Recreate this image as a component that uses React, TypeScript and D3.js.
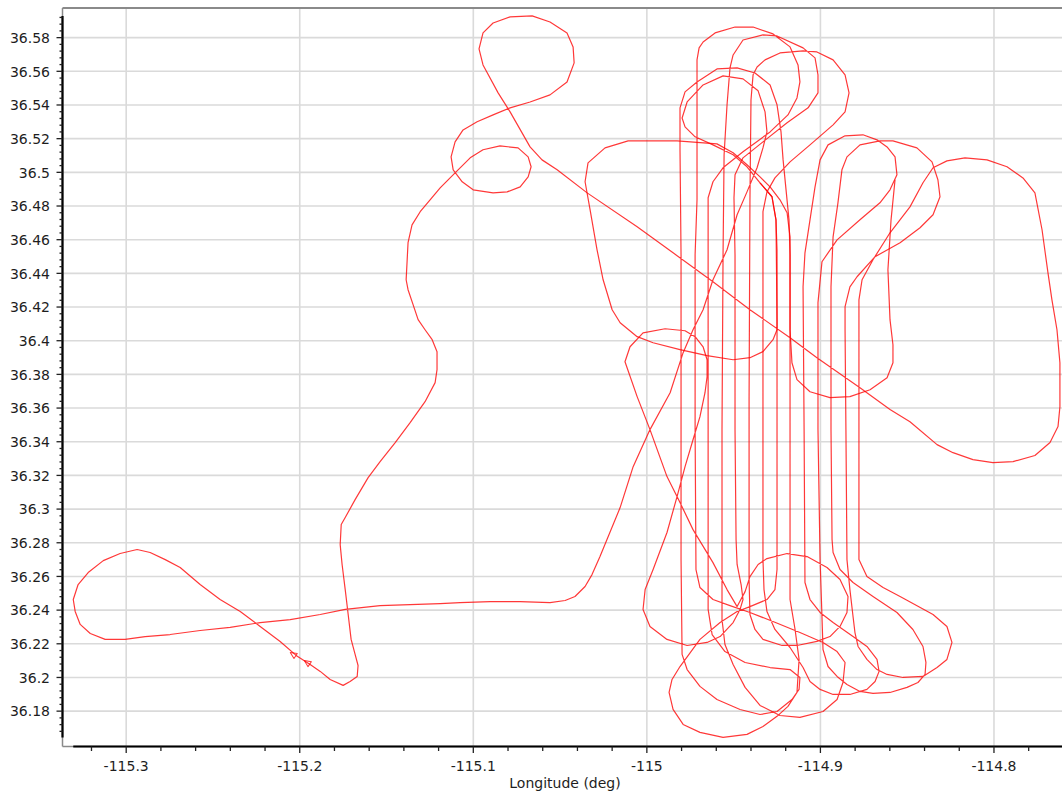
import React from "react";
import * as d3 from "d3";

const WIDTH = 1062;
const HEIGHT = 797;

// Axis ranges (degrees)
const lonDomain: [number, number] = [-115.3367, -114.7608];
const latDomain: [number, number] = [36.159, 36.5976];

// Labelled ticks
const lonTicks = [-115.3, -115.2, -115.1, -115.0, -114.9, -114.8];
const latTicks = [
  36.18, 36.2, 36.22, 36.24, 36.26, 36.28, 36.3, 36.32, 36.34, 36.36, 36.38,
  36.4, 36.42, 36.44, 36.46, 36.48, 36.5, 36.52, 36.54, 36.56, 36.58,
];

// Main flight track: departure, survey lines, return (lon, lat)
const mainTrack: [number, number][] = [
  [-115.2021, 36.2131], [-115.194, 36.2077], [-115.1882, 36.2036], [-115.1825, 36.1988],
  [-115.175, 36.1953], [-115.171, 36.1976], [-115.1669, 36.2006], [-115.1664, 36.2071],
  [-115.1681, 36.2137], [-115.1704, 36.2226], [-115.1721, 36.2374], [-115.1738, 36.2522],
  [-115.1756, 36.2671], [-115.1767, 36.2789], [-115.1761, 36.2908], [-115.1738, 36.295],
  [-115.1681, 36.3056], [-115.1606, 36.3187], [-115.1537, 36.3282], [-115.145, 36.3395],
  [-115.1364, 36.3513], [-115.1278, 36.3638], [-115.122, 36.3751], [-115.1209, 36.3828],
  [-115.1209, 36.3935], [-115.1237, 36.4006], [-115.1278, 36.4065], [-115.1318, 36.4125],
  [-115.1347, 36.4214], [-115.1376, 36.4303], [-115.1387, 36.4362], [-115.1381, 36.4481],
  [-115.1376, 36.4582], [-115.1353, 36.4688], [-115.1306, 36.4766], [-115.1249, 36.4837],
  [-115.1191, 36.4908], [-115.1105, 36.4997], [-115.1018, 36.5086], [-115.0944, 36.5134],
  [-115.0846, 36.5157], [-115.0742, 36.5145], [-115.0684, 36.5092], [-115.0667, 36.5033],
  [-115.0684, 36.4973], [-115.073, 36.4914], [-115.0805, 36.4884], [-115.0886, 36.4878],
  [-115.1001, 36.4896], [-115.1064, 36.4944], [-115.1116, 36.5015], [-115.1128, 36.5092],
  [-115.1105, 36.5181], [-115.1059, 36.5252], [-115.0978, 36.53], [-115.0886, 36.5341],
  [-115.0788, 36.5383], [-115.0673, 36.5418], [-115.0558, 36.546], [-115.046, 36.5537],
  [-115.0419, 36.565], [-115.0425, 36.5745], [-115.046, 36.5828], [-115.0558, 36.5893],
  [-115.0661, 36.5929], [-115.0788, 36.5923], [-115.0886, 36.5887], [-115.0944, 36.5828],
  [-115.0967, 36.5733], [-115.0944, 36.5638], [-115.0857, 36.5472], [-115.0788, 36.5359],
  [-115.0673, 36.5151], [-115.0604, 36.5074], [-115.0517, 36.5015], [-115.0344, 36.4878],
  [-115.0056, 36.4677], [-114.9849, 36.4522], [-114.9619, 36.435], [-114.9406, 36.4184],
  [-114.9175, 36.4018], [-114.902, 36.3899], [-114.8772, 36.3721], [-114.8599, 36.3591],
  [-114.8484, 36.3519], [-114.8328, 36.3383], [-114.8236, 36.3335], [-114.8121, 36.3294],
  [-114.8006, 36.3276], [-114.789, 36.3282], [-114.7764, 36.3318], [-114.7677, 36.3395],
  [-114.7631, 36.349], [-114.762, 36.3608], [-114.762, 36.3869], [-114.7637, 36.4065],
  [-114.7666, 36.4243], [-114.7689, 36.4404], [-114.7723, 36.4659], [-114.7764, 36.4878],
  [-114.7833, 36.4967], [-114.7925, 36.5033], [-114.804, 36.5074], [-114.8167, 36.5086],
  [-114.8271, 36.5068], [-114.8351, 36.5027], [-114.8409, 36.4938], [-114.8484, 36.4795],
  [-114.8599, 36.4641], [-114.8697, 36.4481], [-114.876, 36.4362], [-114.8778, 36.4243],
  [-114.8778, 36.3472], [-114.8778, 36.27], [-114.8732, 36.2599], [-114.8639, 36.2534],
  [-114.8541, 36.2481], [-114.8351, 36.2374], [-114.8271, 36.2303], [-114.8242, 36.2208],
  [-114.8271, 36.2107], [-114.8328, 36.2059], [-114.8409, 36.2006], [-114.8524, 36.2],
  [-114.8616, 36.2018], [-114.8674, 36.2047], [-114.8732, 36.2107], [-114.8783, 36.2184],
  [-114.8801, 36.2267], [-114.8812, 36.2362], [-114.883, 36.2522], [-114.8847, 36.27],
  [-114.8853, 36.3472], [-114.8858, 36.4065], [-114.8858, 36.4202], [-114.883, 36.432],
  [-114.8789, 36.438], [-114.8685, 36.4499], [-114.8541, 36.4582], [-114.8426, 36.4671],
  [-114.8351, 36.4748], [-114.8311, 36.4855], [-114.8323, 36.4956], [-114.8357, 36.5062],
  [-114.8444, 36.5145], [-114.8582, 36.5187], [-114.8657, 36.5187], [-114.8772, 36.5163],
  [-114.8847, 36.5092], [-114.8876, 36.5015], [-114.8899, 36.4819], [-114.8927, 36.4617],
  [-114.8939, 36.432], [-114.8939, 36.3472], [-114.8933, 36.2819], [-114.8927, 36.2742],
  [-114.8887, 36.2641], [-114.8812, 36.2564], [-114.8697, 36.2481], [-114.8559, 36.2386],
  [-114.8467, 36.2285], [-114.8409, 36.2184], [-114.8392, 36.2089], [-114.8397, 36.2018],
  [-114.8438, 36.197], [-114.8501, 36.1941], [-114.8599, 36.1911], [-114.8697, 36.1905],
  [-114.8772, 36.1917], [-114.8847, 36.1958], [-114.8904, 36.2006], [-114.8956, 36.2065],
  [-114.8985, 36.2166], [-114.8991, 36.2362], [-114.9002, 36.27], [-114.9014, 36.3472],
  [-114.9014, 36.4226], [-114.8991, 36.4469], [-114.8904, 36.4599], [-114.8772, 36.4718],
  [-114.8657, 36.4819], [-114.8599, 36.4896], [-114.8559, 36.4985], [-114.857, 36.5092],
  [-114.8616, 36.5151], [-114.8674, 36.5193], [-114.8755, 36.5223], [-114.8858, 36.5217],
  [-114.8956, 36.5163], [-114.9002, 36.5074], [-114.9031, 36.4914], [-114.906, 36.4718],
  [-114.9089, 36.4522], [-114.91, 36.432], [-114.9094, 36.3472], [-114.9089, 36.2564],
  [-114.906, 36.2463], [-114.9002, 36.2386], [-114.8927, 36.2326], [-114.8812, 36.2243],
  [-114.8732, 36.2184], [-114.8674, 36.2107], [-114.8662, 36.2036], [-114.8685, 36.1976],
  [-114.8732, 36.1929], [-114.883, 36.1899], [-114.8927, 36.1899], [-114.9002, 36.1929],
  [-114.906, 36.1976], [-114.91, 36.2059], [-114.9175, 36.2178], [-114.9262, 36.2285],
  [-114.9308, 36.2392], [-114.9325, 36.2522], [-114.9331, 36.27], [-114.9331, 36.3472],
  [-114.9331, 36.451], [-114.9331, 36.4766], [-114.9308, 36.4884], [-114.9262, 36.4967],
  [-114.9175, 36.5062], [-114.906, 36.5163], [-114.8927, 36.5282], [-114.8858, 36.5359],
  [-114.8835, 36.5472], [-114.8858, 36.5579], [-114.8927, 36.5668], [-114.902, 36.5715],
  [-114.91, 36.5721], [-114.9233, 36.5709], [-114.9319, 36.5668], [-114.9365, 36.5626],
  [-114.9388, 36.5579], [-114.94, 36.543], [-114.9406, 36.4837], [-114.9411, 36.365],
  [-114.9411, 36.2582], [-114.9406, 36.2374], [-114.9377, 36.2285], [-114.9331, 36.2226],
  [-114.9221, 36.219], [-114.9135, 36.219], [-114.902, 36.2214], [-114.8945, 36.2243],
  [-114.8887, 36.2303], [-114.8847, 36.2386], [-114.8841, 36.2481], [-114.8887, 36.2582],
  [-114.8962, 36.2653], [-114.9077, 36.2718], [-114.9192, 36.2736], [-114.9308, 36.2706],
  [-114.9359, 36.2671], [-114.9406, 36.2599], [-114.9434, 36.251], [-114.948, 36.2421],
  [-114.9538, 36.2522], [-114.9619, 36.2682], [-114.9734, 36.2878], [-114.9809, 36.3039],
  [-114.9884, 36.3193], [-114.9982, 36.3472], [-115.0056, 36.3668], [-115.0126, 36.3875],
  [-115.0097, 36.3964], [-115.0022, 36.4047], [-114.9895, 36.4071], [-114.978, 36.4059],
  [-114.9722, 36.4024], [-114.9676, 36.3964], [-114.9653, 36.3887], [-114.9653, 36.3786],
  [-114.9665, 36.3691], [-114.9694, 36.3549], [-114.9734, 36.3412], [-114.978, 36.3252],
  [-114.9826, 36.3074], [-114.9884, 36.2861], [-114.9964, 36.2641], [-115.001, 36.2522],
  [-115.0022, 36.2404], [-114.9982, 36.2303], [-114.9884, 36.2226], [-114.9768, 36.219],
  [-114.9653, 36.2208], [-114.9578, 36.2243], [-114.9503, 36.2326], [-114.9463, 36.2404],
  [-114.9446, 36.2463], [-114.9457, 36.2552], [-114.948, 36.2671], [-114.9486, 36.2819],
  [-114.9492, 36.3472], [-114.9492, 36.451], [-114.9498, 36.4849], [-114.9492, 36.4985],
  [-114.9446, 36.5086], [-114.9331, 36.5181], [-114.9192, 36.5294], [-114.9071, 36.5383],
  [-114.9014, 36.5472], [-114.9014, 36.5579], [-114.9031, 36.568], [-114.91, 36.5739],
  [-114.925, 36.581], [-114.9331, 36.5816], [-114.9446, 36.5786], [-114.9503, 36.5697],
  [-114.9521, 36.562], [-114.9538, 36.5401], [-114.9555, 36.5104], [-114.9561, 36.451],
  [-114.9567, 36.3472], [-114.9567, 36.2344], [-114.955, 36.2196], [-114.9503, 36.2077],
  [-114.9434, 36.1941], [-114.9348, 36.1834], [-114.9233, 36.1774], [-114.9118, 36.1763],
  [-114.8985, 36.1798], [-114.8904, 36.1869], [-114.887, 36.197], [-114.8858, 36.2089],
  [-114.8904, 36.2154], [-114.8985, 36.2208], [-114.9118, 36.2267], [-114.9273, 36.2332],
  [-114.9406, 36.2386], [-114.9521, 36.2427], [-114.9619, 36.2463], [-114.9694, 36.2534],
  [-114.9717, 36.2641], [-114.9722, 36.3472], [-114.9722, 36.451], [-114.9711, 36.4837],
  [-114.9711, 36.543], [-114.9711, 36.5668], [-114.9699, 36.5739], [-114.9676, 36.5774],
  [-114.9607, 36.5828], [-114.9492, 36.5863], [-114.9388, 36.5863], [-114.9273, 36.5822],
  [-114.9175, 36.5745], [-114.9129, 36.5638], [-114.9118, 36.5537], [-114.9135, 36.5442],
  [-114.9187, 36.5341], [-114.929, 36.524], [-114.9446, 36.5122], [-114.9561, 36.5027],
  [-114.9619, 36.4944], [-114.9647, 36.4849], [-114.9647, 36.451], [-114.9647, 36.3472],
  [-114.9647, 36.2404], [-114.9624, 36.2255], [-114.955, 36.2154], [-114.9434, 36.2089],
  [-114.929, 36.2059], [-114.9175, 36.2047], [-114.9118, 36.2], [-114.9123, 36.1929],
  [-114.9164, 36.1869], [-114.925, 36.1798], [-114.9348, 36.178], [-114.9463, 36.181],
  [-114.9596, 36.1869], [-114.9694, 36.1947], [-114.9768, 36.2047], [-114.9797, 36.2137],
  [-114.9803, 36.27], [-114.9803, 36.3472], [-114.9803, 36.451], [-114.9809, 36.5134],
  [-114.9809, 36.5383], [-114.978, 36.5478], [-114.9711, 36.5537], [-114.9596, 36.5614],
  [-114.948, 36.562], [-114.9377, 36.559], [-114.929, 36.5519], [-114.925, 36.5401],
  [-114.9227, 36.524], [-114.9215, 36.5074], [-114.9198, 36.4896], [-114.9181, 36.4718],
  [-114.9175, 36.451], [-114.9175, 36.3472], [-114.9175, 36.2463], [-114.9146, 36.2285],
  [-114.9123, 36.2107], [-114.9135, 36.1911], [-114.9187, 36.1828], [-114.925, 36.1769],
  [-114.9331, 36.1709], [-114.9423, 36.1662], [-114.9561, 36.1644], [-114.9694, 36.1674],
  [-114.9791, 36.1721], [-114.9849, 36.181], [-114.9872, 36.1911], [-114.9855, 36.1988],
  [-114.9809, 36.2065], [-114.9694, 36.2226], [-114.9578, 36.2326], [-114.948, 36.2392],
  [-114.9406, 36.2421], [-114.9308, 36.2463], [-114.9262, 36.2522], [-114.925, 36.2641],
  [-114.925, 36.3472], [-114.925, 36.4125], [-114.9256, 36.4718], [-114.9279, 36.4855],
  [-114.9348, 36.4938], [-114.9423, 36.5033], [-114.9503, 36.5104], [-114.9619, 36.5163],
  [-114.9722, 36.5211], [-114.978, 36.527], [-114.9797, 36.5323], [-114.9768, 36.5418],
  [-114.9676, 36.5519], [-114.9561, 36.5573], [-114.9446, 36.5555], [-114.9359, 36.5484],
  [-114.9319, 36.5359], [-114.9308, 36.524], [-114.9331, 36.5145], [-114.9365, 36.5027],
  [-114.9423, 36.4884], [-114.948, 36.4748], [-114.9538, 36.454], [-114.9619, 36.4362],
  [-114.9676, 36.4184], [-114.9734, 36.4065], [-114.9791, 36.3929], [-114.9866, 36.3691],
  [-114.9982, 36.3472], [-115.0079, 36.3252], [-115.0154, 36.3009], [-115.027, 36.2718],
  [-115.0316, 36.2611], [-115.0356, 36.254], [-115.0414, 36.2481], [-115.0471, 36.2457],
  [-115.0558, 36.2445], [-115.073, 36.2451], [-115.0903, 36.2451], [-115.1076, 36.2445],
  [-115.1191, 36.2439], [-115.1364, 36.2433], [-115.1537, 36.2427], [-115.1738, 36.2404],
  [-115.1882, 36.2374], [-115.2055, 36.2344], [-115.2228, 36.2326], [-115.2401, 36.2297],
  [-115.2574, 36.2279], [-115.2747, 36.2255], [-115.2891, 36.2243], [-115.3006, 36.2226],
  [-115.3121, 36.2226], [-115.3207, 36.2261], [-115.3265, 36.2315], [-115.3294, 36.2392],
  [-115.3305, 36.2463], [-115.3277, 36.2552], [-115.3219, 36.2623], [-115.3132, 36.2694],
  [-115.3035, 36.2736], [-115.2937, 36.276], [-115.2862, 36.2742], [-115.2775, 36.27],
  [-115.2689, 36.2653], [-115.2574, 36.2552], [-115.2459, 36.2463], [-115.2343, 36.2392],
  [-115.2228, 36.2303], [-115.2113, 36.2214], [-115.2021, 36.2131],
];

// Holding loop flown between the eastern survey lines and the western turn area
const loopTrack: [number, number][] = [
  [-114.857, 36.4956], [-114.8593, 36.4718], [-114.8611, 36.4421], [-114.8599, 36.4125],
  [-114.8582, 36.3976], [-114.8582, 36.3869], [-114.8616, 36.378], [-114.8714, 36.3709],
  [-114.883, 36.3668], [-114.8945, 36.3662], [-114.906, 36.3697], [-114.9135, 36.3769],
  [-114.9164, 36.3869], [-114.9175, 36.4065], [-114.9175, 36.451], [-114.9175, 36.4617],
  [-114.9192, 36.476], [-114.9233, 36.4837], [-114.929, 36.4914], [-114.9348, 36.4973],
  [-114.9423, 36.5045], [-114.9503, 36.5116], [-114.9596, 36.5169], [-114.9826, 36.5187],
  [-115.0108, 36.5187], [-115.0241, 36.5145], [-115.0339, 36.5056], [-115.0356, 36.4944],
  [-115.0327, 36.4777], [-115.0287, 36.454], [-115.0252, 36.4362], [-115.02, 36.4184],
  [-115.0154, 36.4107], [-115.0056, 36.4024], [-114.9964, 36.3988], [-114.9809, 36.3947],
  [-114.9653, 36.3911], [-114.9503, 36.3887], [-114.9406, 36.3899], [-114.9331, 36.3935],
  [-114.9273, 36.4006], [-114.925, 36.4065], [-114.925, 36.454], [-114.9256, 36.4718],
  [-114.9279, 36.4855], [-114.9348, 36.4938],
];

// Direction markers near the airfield
const directionMarks: [number, number][] = [
  [-115.2038, 36.2137],
  [-115.1957, 36.2089],
];

const PLOT = { left: 62.5, right: 1062, top: 8, bottom: 746.5 };
const FONT = "'DejaVu Sans', Verdana, sans-serif";

function fmt(v: number) {
  return String(+v.toFixed(3));
}

export default function App() {
  const x = d3.scaleLinear().domain(lonDomain).range([PLOT.left, PLOT.right]);
  const y = d3.scaleLinear().domain(latDomain).range([PLOT.bottom, PLOT.top]);

  const all = [...mainTrack, ...loopTrack];
  const lonExt = d3.extent(all, (d) => d[0]) as [number, number];
  const latExt = d3.extent(all, (d) => d[1]) as [number, number];

  const line = d3
    .line<[number, number]>()
    .x((d) => x(d[0]))
    .y((d) => y(d[1]));

  // minor ticks
  const lonMinor: number[] = [];
  for (let k = Math.ceil(lonExt[0] / 0.02); k <= Math.floor(lonDomain[1] / 0.02); k++) {
    if (k % 5 !== 0) lonMinor.push(k * 0.02);
  }
  const latMinor: number[] = [];
  for (let k = Math.ceil(latExt[0] / 0.004); k <= Math.floor(latExt[1] / 0.004); k++) {
    if (k % 5 !== 0) latMinor.push(k * 0.004);
  }

  const xAxisStart = x(lonExt[0]);
  const yAxisTop = y(latExt[1]);
  const yAxisBottom = y(latExt[0]);

  // direction of travel at the markers
  const p0 = [x(mainTrack[0][0]), y(mainTrack[0][1])];
  const p1 = [x(mainTrack[2][0]), y(mainTrack[2][1])];
  const ang = (Math.atan2(p1[1] - p0[1], p1[0] - p0[0]) * 180) / Math.PI;

  return (
    <svg
      width={WIDTH}
      height={HEIGHT}
      style={{ position: "absolute", left: 0, top: 0, background: "#fff" }}
    >
      <defs>
        <clipPath id="plotClip">
          <rect x={PLOT.left} y={PLOT.top} width={PLOT.right - PLOT.left} height={PLOT.bottom - PLOT.top} />
        </clipPath>
      </defs>
      <rect x={0} y={0} width={WIDTH} height={HEIGHT} fill="#fff" />

      {/* grid */}
      <g stroke="#dadada" strokeWidth={1.6}>
        {lonTicks.map((v) => (
          <line key={"gx" + v} x1={x(v)} x2={x(v)} y1={PLOT.top} y2={PLOT.bottom} />
        ))}
        {latTicks.map((v) => (
          <line key={"gy" + v} x1={PLOT.left} x2={PLOT.right} y1={y(v)} y2={y(v)} />
        ))}
      </g>

      {/* frame */}
      <line x1={PLOT.left} x2={PLOT.right} y1={PLOT.top} y2={PLOT.top} stroke="#8a8a8a" strokeWidth={2} />
      <line x1={PLOT.left} x2={PLOT.left} y1={PLOT.top} y2={PLOT.bottom} stroke="#8a8a8a" strokeWidth={1.5} />
      <line x1={PLOT.left} x2={PLOT.right} y1={PLOT.bottom} y2={PLOT.bottom} stroke="#8a8a8a" strokeWidth={1.5} />

      {/* track */}
      <g clipPath="url(#plotClip)" fill="none" stroke="#ff0000" strokeOpacity={0.78} strokeWidth={1.2} strokeLinejoin="round">
        <path d={line(mainTrack) || ""} />
        <path d={line(loopTrack) || ""} />
        {directionMarks.map((d, i) => (
          <path
            key={"m" + i}
            d="M3.5,0 L-3,-3 L-3,3 Z"
            transform={`translate(${x(d[0])},${y(d[1])}) rotate(${ang + 180})`}
            strokeWidth={1}
          />
        ))}
      </g>

      {/* axis lines over data extent */}
      <line x1={xAxisStart} x2={PLOT.right} y1={PLOT.bottom} y2={PLOT.bottom} stroke="#000" strokeWidth={2.2} />
      <line x1={PLOT.left} x2={PLOT.left} y1={yAxisTop} y2={yAxisBottom} stroke="#000" strokeWidth={2.2} />

      {/* x ticks */}
      <g stroke="#222" strokeWidth={1.3}>
        {lonTicks.map((v) => (
          <line key={"tx" + v} x1={x(v)} x2={x(v)} y1={PLOT.bottom} y2={PLOT.bottom + 6.5} />
        ))}
        {lonMinor.map((v) => (
          <line key={"mx" + v} x1={x(v)} x2={x(v)} y1={PLOT.bottom} y2={PLOT.bottom + 4.5} />
        ))}
        {latTicks.map((v) => (
          <line key={"ty" + v} x1={PLOT.left - 6} x2={PLOT.left} y1={y(v)} y2={y(v)} />
        ))}
        {latMinor.map((v) => (
          <line key={"my" + v} x1={PLOT.left - 3} x2={PLOT.left} y1={y(v)} y2={y(v)} />
        ))}
      </g>

      {/* labels */}
      <g fontFamily={FONT} fontSize={14} fill="#1e1e1e">
        {lonTicks.map((v) => (
          <text key={"lx" + v} x={x(v)} y={770.5} textAnchor="middle">
            {fmt(v)}
          </text>
        ))}
        {latTicks.map((v) => (
          <text key={"ly" + v} x={50} y={y(v) + 5.3} textAnchor="end">
            {fmt(v)}
          </text>
        ))}
        <text x={565} y={788} textAnchor="middle">
          Longitude (deg)
        </text>
      </g>
    </svg>
  );
}
